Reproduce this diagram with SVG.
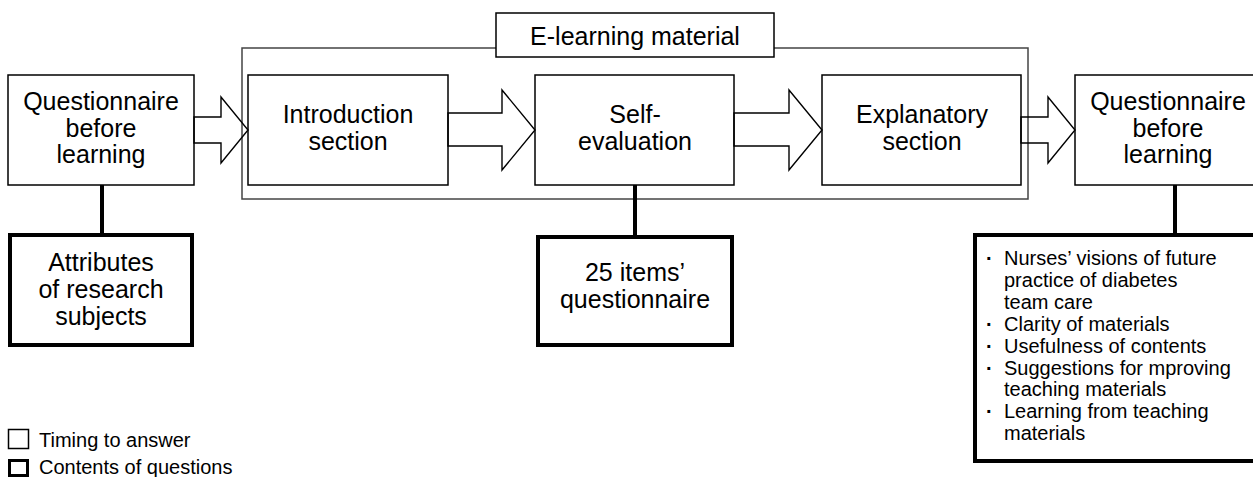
<svg xmlns="http://www.w3.org/2000/svg" width="1253" height="477" viewBox="0 0 1253 477">
<style>
text{font-family:"Liberation Sans",Arial,sans-serif;fill:#000}
.t{font-size:25px;text-anchor:middle}
.s{font-size:20px}
.b{font-weight:bold}
.thin{fill:#fff;stroke:#000;stroke-width:1.5}
.thick{fill:#fff;stroke:#000;stroke-width:4}
.frame{fill:none;stroke:#444;stroke-width:1.5}
.arrow{fill:none;stroke:#000;stroke-width:1.4;stroke-linejoin:miter}
.conn{stroke:#000;stroke-width:4;fill:none}
</style>
<rect width="1253" height="477" fill="#fff"/>
<g id="frame">
<rect class="frame" x="242" y="48" width="786" height="151"/>
</g>
<g id="label">
<rect class="thin" x="496" y="13" width="278" height="44"/>
<text class="t" x="635" y="45">E-learning material</text>
</g>
<g id="q1">
<rect class="thin" x="8" y="75" width="186" height="110"/>
<text class="t" x="101" y="110">Questionnaire</text>
<text class="t" x="101" y="137">before</text>
<text class="t" x="101" y="163">learning</text>
</g>
<g id="intro">
<rect class="thin" x="248" y="75" width="200" height="110"/>
<text class="t" x="348" y="123">Introduction</text>
<text class="t" x="348" y="150">section</text>
</g>
<g id="self">
<rect class="thin" x="535" y="75" width="199" height="110"/>
<text class="t" x="635" y="123">Self-</text>
<text class="t" x="635" y="150">evaluation</text>
</g>
<g id="expl">
<rect class="thin" x="822" y="75" width="199" height="110"/>
<text class="t" x="922" y="123">Explanatory</text>
<text class="t" x="922" y="150">section</text>
</g>
<g id="q2">
<rect class="thin" x="1075" y="75" width="190" height="110"/>
<text class="t" x="1168" y="110">Questionnaire</text>
<text class="t" x="1168" y="137">before</text>
<text class="t" x="1168" y="163">learning</text>
</g>
<g id="attr">
<rect class="thick" x="10" y="235" width="182" height="110"/>
<text class="t" x="101" y="271">Attributes</text>
<text class="t" x="101" y="298">of research</text>
<text class="t" x="101" y="325">subjects</text>
</g>
<g id="items">
<rect class="thick" x="538" y="237" width="194" height="108"/>
<text class="t" x="635" y="281">25 items’</text>
<text class="t" x="635" y="308">questionnaire</text>
</g>
<g id="list">
<rect class="thick" x="975" y="235" width="290" height="226"/>
<text class="s" x="986" y="265"><tspan class="b">·</tspan><tspan x="1004">Nurses’ visions of future</tspan></text>
<text class="s" x="1004" y="287">practice of diabetes</text>
<text class="s" x="1004" y="309">team care</text>
<text class="s" x="986" y="331"><tspan class="b">·</tspan><tspan x="1004">Clarity of materials</tspan></text>
<text class="s" x="986" y="353"><tspan class="b">·</tspan><tspan x="1004">Usefulness of contents</tspan></text>
<text class="s" x="986" y="375"><tspan class="b">·</tspan><tspan x="1004">Suggestions for mproving</tspan></text>
<text class="s" x="1004" y="396">teaching materials</text>
<text class="s" x="986" y="418"><tspan class="b">·</tspan><tspan x="1004">Learning from teaching</tspan></text>
<text class="s" x="1004" y="440">materials</text>
</g>
<g id="connectors">
<polygon class="arrow" points="194,117 221,117 221,97 248,130 221,163 221,143 194,143"/>
<polygon class="arrow" points="448,113 502,113 502,90 535,130 502,170 502,146 448,146"/>
<polygon class="arrow" points="734,113 789,113 789,90 822,130 789,170 789,146 734,146"/>
<polygon class="arrow" points="1021,117 1048,117 1048,97 1075,130 1048,163 1048,143 1021,143"/>
<line class="conn" x1="102" y1="185" x2="102" y2="234"/>
<line class="conn" x1="635" y1="185" x2="635" y2="236"/>
<line class="conn" x1="1175" y1="185" x2="1175" y2="234"/>
</g>
<g id="legend">
<rect class="thin" x="8.5" y="429.5" width="20" height="19"/>
<text class="s" x="39" y="447">Timing to answer</text>
<rect x="9.5" y="460.5" width="18" height="15" fill="#fff" stroke="#000" stroke-width="3"/>
<text class="s" x="39" y="474">Contents of questions</text>
</g>
</svg>
